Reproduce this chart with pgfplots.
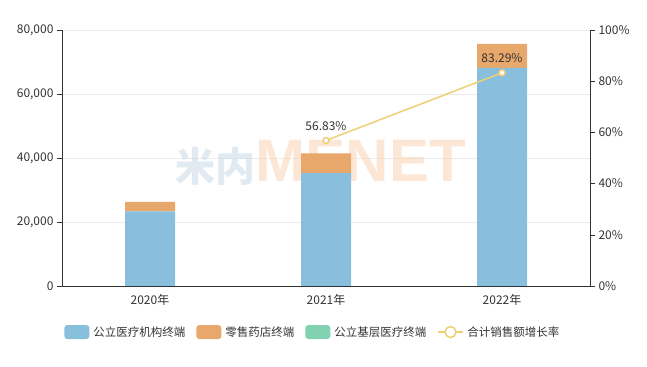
\documentclass[border=0pt]{standalone}
\usepackage{pgfplots}
\pgfplotsset{compat=1.18}
\usepackage{fontspec}
\setmainfont{Noto Sans CJK SC}
\newfontfamily\wmfont{Liberation Sans}
\definecolor{cblue}{HTML}{88BFDD}
\definecolor{corange}{HTML}{E8A86B}
\definecolor{cgreen}{HTML}{80D2B0}
\definecolor{cline}{HTML}{EDCF76}
\definecolor{ctext}{HTML}{333333}
\definecolor{caxis}{HTML}{333333}
\definecolor{wmblue}{HTML}{C9D9E6}
\definecolor{wmorange}{HTML}{FAD2B2}
\pgfplotstableread{
x blue orange green
0 23300 3000 0
1 35250 6180 0
2 68200 7430 0
}\bars
\begin{document}
\begin{tikzpicture}
\useasboundingbox (0,0) rectangle (647bp,367bp);
\begin{axis}[
  at={(62bp,81bp)}, anchor=south west,
  width=528bp, height=256bp, scale only axis,
  ybar stacked, bar width=50bp,
  xmin=-0.5, xmax=2.5, ymin=0, ymax=80000,
  axis x line*=bottom, axis y line*=left,
  axis line style={draw=caxis},
  xtick={0,1,2}, xticklabels={2020年,2021年,2022年},
  major x tick style={draw=none},
  extra x ticks={-0.5,0.5,1.5,2.5}, extra x tick labels={},
  extra x tick style={major tick length=5bp, tick style={draw=caxis}, grid=none},
  ytick={0,20000,40000,60000,80000},
  scaled y ticks=false,
  yticklabel style={/pgf/number format/.cd, 1000 sep={,}, assume math mode=true},
  xticklabel style={/pgf/number format/assume math mode=true},
  tick align=outside, major tick length=5bp,
  tick style={draw=caxis},
  ymajorgrids, grid style={draw=black!8},
  ticklabel style={font=\fontsize{12bp}{14bp}\selectfont, text=ctext},
  legend style={draw=none, fill=none, at={(0.475,-0.18)}, anchor=center,
    legend columns=4, font=\fontsize{11.5bp}{14bp}\selectfont, text=ctext,
    /tikz/every even column/.append style={column sep=9bp},
    legend cell align=left},
]
\addplot[fill=cblue, draw=none, legend image code/.code={\fill[cblue, rounded corners=3bp] (0bp,-7bp) rectangle (25bp,7bp); \path (27bp,0bp);}] table[x=x,y=blue]{\bars};
\addlegendentry{公立医疗机构终端}
\addplot[fill=corange, draw=none, legend image code/.code={\fill[corange, rounded corners=3bp] (0bp,-7bp) rectangle (25bp,7bp); \path (27bp,0bp);}] table[x=x,y=orange]{\bars};
\addlegendentry{零售药店终端}
\addplot[fill=cgreen, draw=none, legend image code/.code={\fill[cgreen, rounded corners=3bp] (0bp,-7bp) rectangle (25bp,7bp); \path (27bp,0bp);}] table[x=x,y=green]{\bars};
\addlegendentry{公立基层医疗终端}
\addlegendimage{legend image code/.code={\draw[cline, line width=1.5bp] (0bp,0bp) -- (25bp,0bp); \draw[cline, line width=1.5bp, fill=white] (12.5bp,0bp) circle (5.5bp); \path (27bp,0bp);}}
\addlegendentry{合计销售额增长率}
\node[text opacity=0.55, inner sep=0pt] at (rel axis cs:0.49,0.48) {\bfseries\textcolor{wmblue}{\fontsize{40bp}{44bp}\selectfont 米内}\textcolor{wmorange}{\wmfont\fontsize{60bp}{62bp}\selectfont MENET}};
\end{axis}
\begin{axis}[
  at={(62bp,81bp)}, anchor=south west,
  width=528bp, height=256bp, scale only axis,
  xmin=-0.5, xmax=2.5, ymin=0, ymax=100,
  axis x line=none, axis y line*=right,
  axis line style={draw=caxis},
  ytick={0,20,40,60,80,100},
  yticklabel={\pgfmathprintnumber{\tick}\%},
  yticklabel style={/pgf/number format/assume math mode=true},
  tick align=outside, major tick length=5bp,
  tick style={draw=caxis},
  ticklabel style={font=\fontsize{12bp}{14bp}\selectfont, text=ctext},
]
\addplot[cline, line width=1.5bp, mark=*, mark size=3bp, mark options={fill=white, draw=cline},
  nodes near coords={\pgfmathprintnumber[fixed,precision=2,fixed zerofill]{\pgfplotspointmeta}\%},
  point meta=y,
  every node near coord/.append style={font=\fontsize{12bp}{14bp}\selectfont, text=ctext, anchor=south, yshift=6bp, /pgf/number format/assume math mode=true}]
  coordinates {(1,56.83) (2,83.29)};
\end{axis}
\end{tikzpicture}
\end{document}
